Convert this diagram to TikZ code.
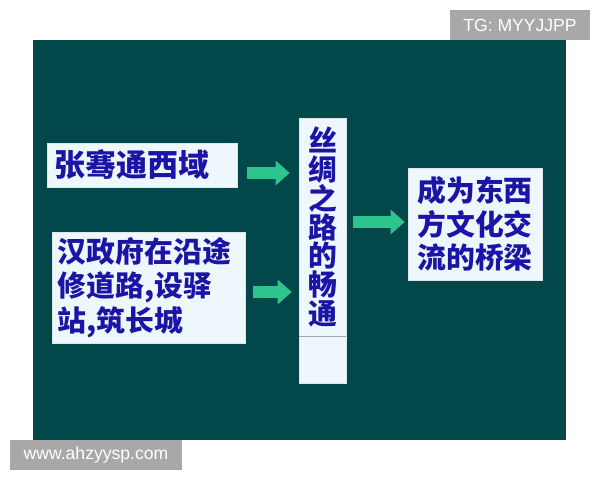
\documentclass[tikz,border=0pt]{standalone}
\usepackage{fontspec}
\setmainfont{Liberation Sans}
\newfontfamily\cjk{Noto Sans CJK SC}
\usetikzlibrary{arrows.meta}
\definecolor{board}{HTML}{02474A}
\definecolor{paper}{HTML}{EEF8FC}
\definecolor{ink}{HTML}{1C14A6}
\definecolor{arrowgreen}{HTML}{2EC48E}
\definecolor{tag}{HTML}{A8A8A8}

\begin{document}
\begin{tikzpicture}[x=0.025cm, y=-0.025cm]
\tikzstyle{boxr}=[rectangle, fill=paper, draw=paper!85!gray, inner sep=0pt, text=ink, font=\cjk\bfseries\fontsize{20.5}{24.5}\selectfont]
\tikzstyle{tagr}=[rectangle, fill=tag, text=white, inner sep=0pt, minimum height=0.75cm, font=\fontsize{12.5}{15}\selectfont]
\tikzstyle{drawstyle}=[arrowgreen, line width=8.5pt, -{Triangle[length=10pt,width=17pt]}]

\useasboundingbox (0,0) rectangle (600,480);
\fill[white] (0,0) rectangle (600,480);
\fill[board] (33,40) rectangle (566,440);

\node[tagr, minimum width=3.5cm] (T0) at (520,25) {TG: MYYJJPP};
\node[tagr, minimum width=4.3cm] (T1) at (96,455) {www.ahzyysp.com};

\node[boxr, minimum height=1.1cm, text width=4.35cm, inner xsep=0.2cm, align=left, font=\cjk\bfseries\fontsize{22}{26}\selectfont] (B0) at (142,165) {张骞通西域};
\node[boxr, minimum height=2.775cm, text width=4.525cm, inner xsep=0.15cm, align=left] (B1) at (148.5,287.5) {汉政府在沿途\\修道路,设驿\\站,筑长城};
\node[boxr, minimum width=1.175cm, minimum height=5.45cm, align=center, font=\cjk\bfseries\fontsize{20.5}{20.5}\selectfont] (S0) at (322.5,227) {丝\\绸\\之\\路\\的\\畅\\通};
\node[boxr, minimum width=1.175cm, minimum height=1.175cm] (S1) at (322.5,359.5) {};
\draw[gray!70] (S0.south west) -- (S0.south east);
\node[boxr, minimum width=3.35cm, minimum height=2.8cm, align=center, font=\cjk\bfseries\fontsize{20.5}{24}\selectfont] (B2) at (475,224) {成为东西\\方文化交\\流的桥梁};

\draw[drawstyle] ([shift={(10,8)}]B0.east) -- ([shift={(-9,8)}]B0.east -| S0.west);
\draw[drawstyle] ([shift={(8,4.5)}]B1.east) -- ([shift={(-7,4.5)}]B1.east -| S0.west);
\draw[drawstyle] ([shift={(7,-5)}]S0.east) -- ([shift={(-3,-5)}]S0.east -| B2.west);
\end{tikzpicture}
\end{document}
